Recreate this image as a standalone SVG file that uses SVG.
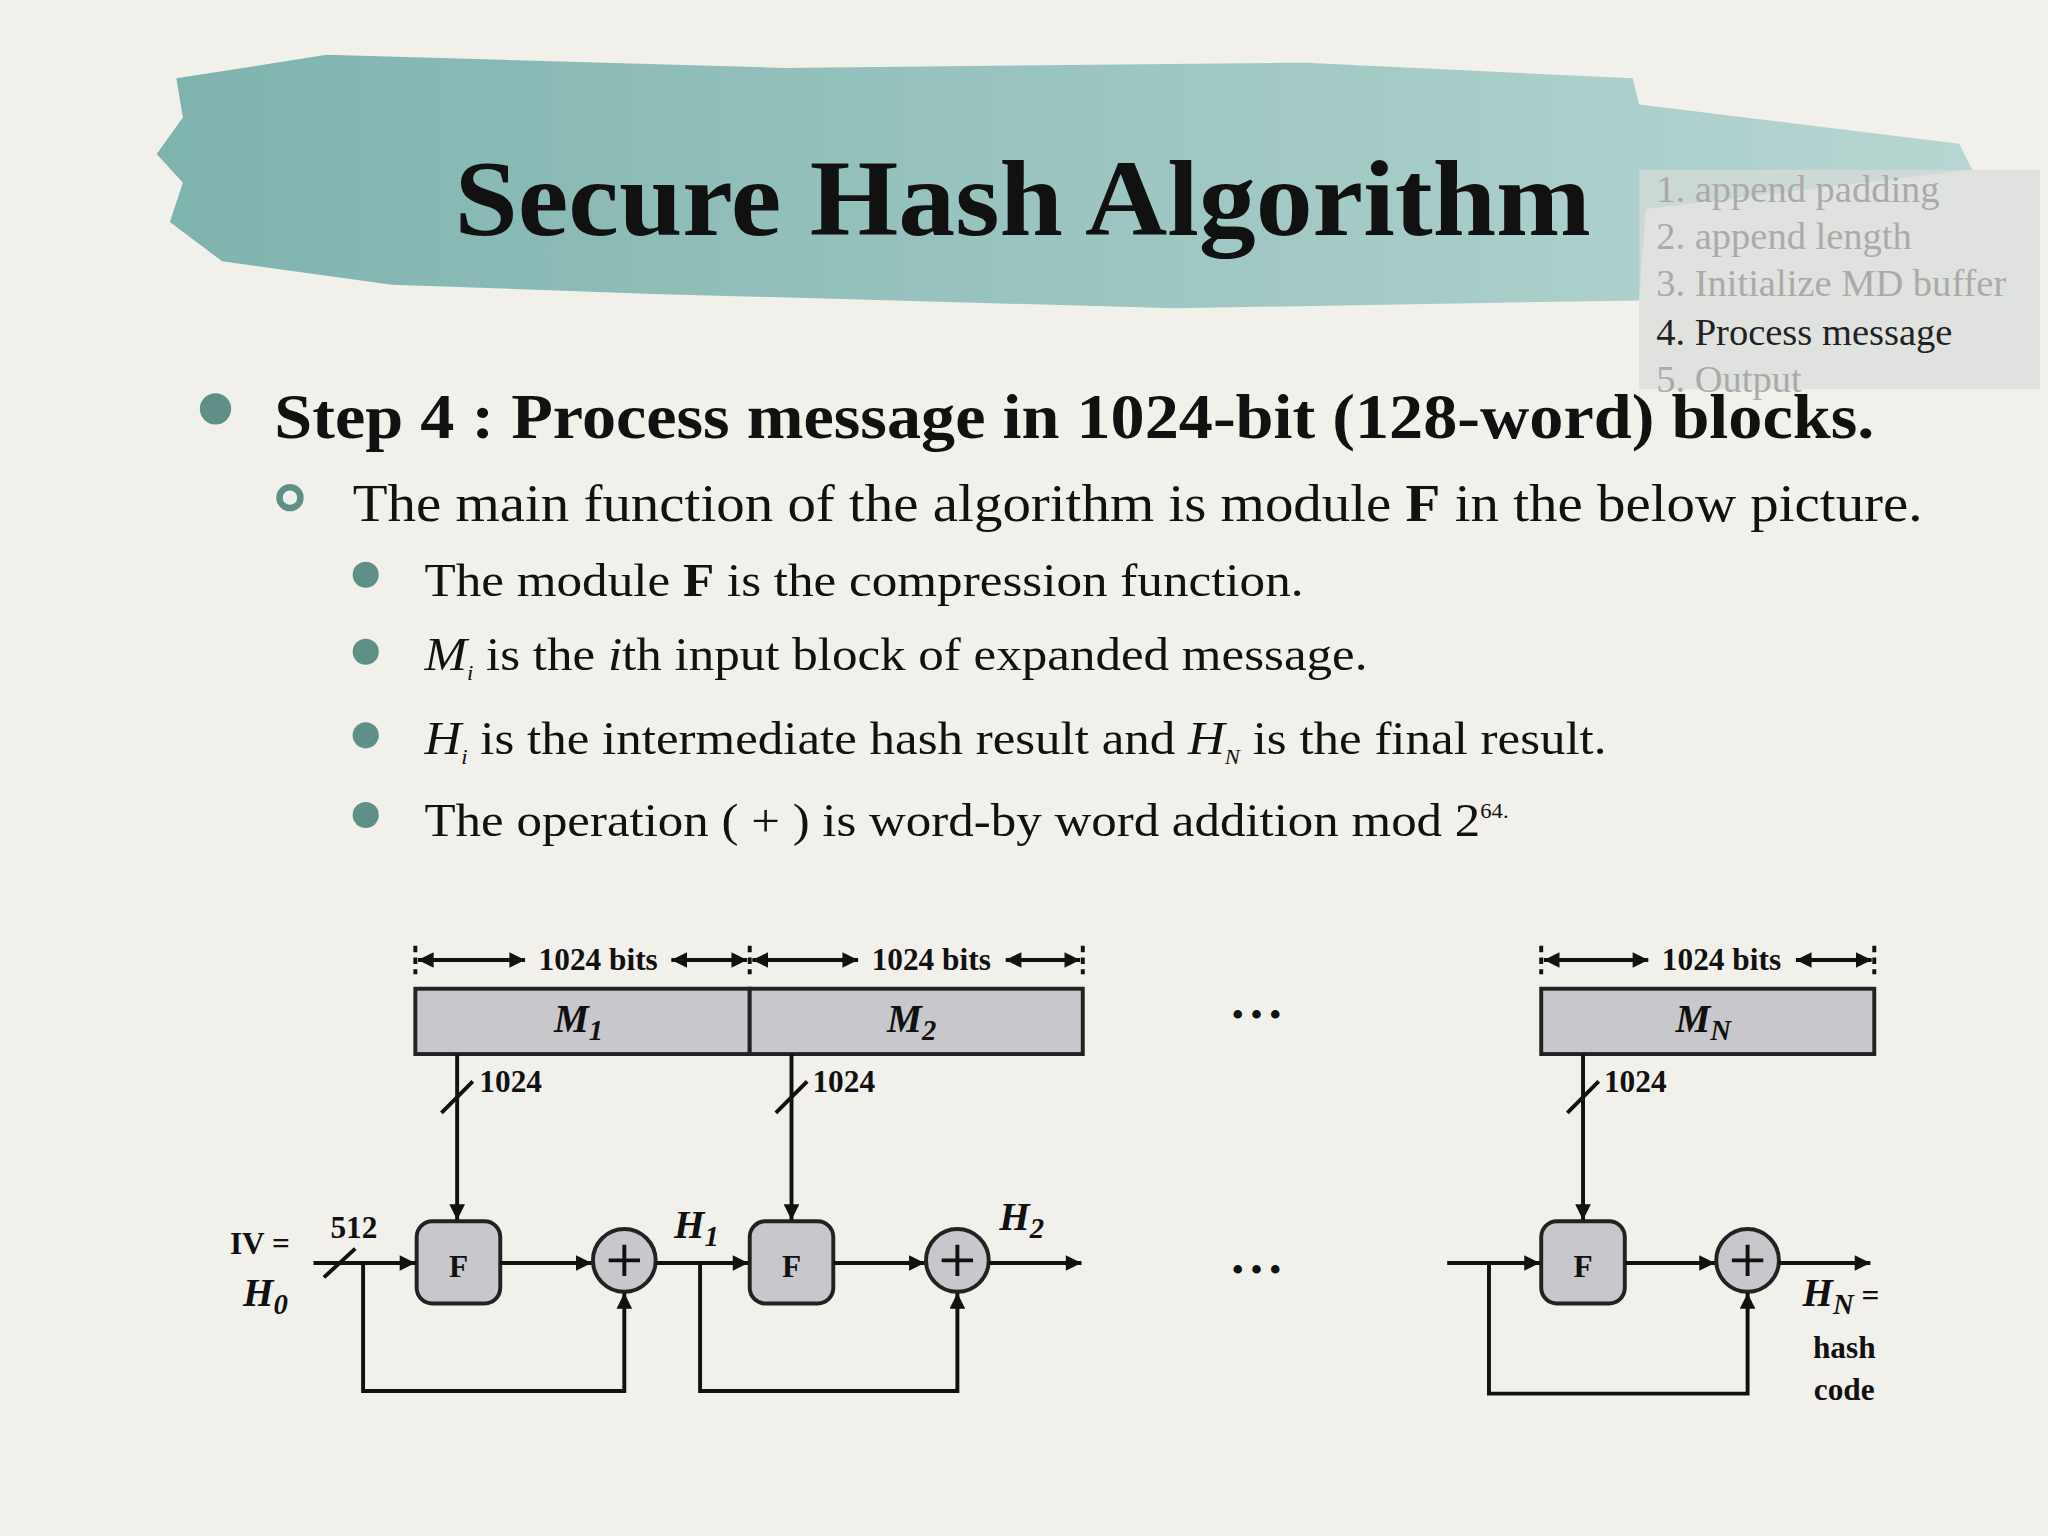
<svg xmlns="http://www.w3.org/2000/svg" width="2048" height="1536" viewBox="0 0 2048 1536">
<defs>
<style>
.s{font-family:"Liberation Serif",serif}
.b{font-weight:bold}
.ln{stroke:#111;stroke-width:3;fill:none}
.box{fill:#c8c8cc;stroke:#222;stroke-width:3}
.lb{font-family:"Liberation Serif",serif;font-weight:bold;font-size:24px;fill:#111}
.mi{font-family:"Liberation Serif",serif;font-weight:bold;font-style:italic;font-size:30px;fill:#111}
.nav{font-family:"Liberation Serif",serif;font-size:29.5px;fill:#aaa}
.bt{font-family:"Liberation Serif",serif;font-size:36px;fill:#111}
</style>
<marker id="ah" viewBox="0 0 10 10" refX="10" refY="5" markerWidth="18" markerHeight="12" markerUnits="userSpaceOnUse" orient="auto-start-reverse"><path d="M0,0L10,5L0,10z" fill="#111"/></marker>
<linearGradient id="g" x1="0" x2="1"><stop offset="0" stop-color="#7fb3ae"/><stop offset="1" stop-color="#b7d6d2"/></linearGradient>
</defs>
<rect width="2048" height="1536" fill="#f1f0eb"/>
<g transform="scale(1.30612)">
<g id="title">
<path d="M135,60 L250,42 L600,52 L1000,48 L1250,60 L1255,80 L1500,110 L1510,130 L1260,160 L1255,230 L900,236 L500,225 L300,218 L170,200 L130,170 L140,140 L120,118 L140,90 Z" fill="url(#g)"/>
<text x="348" y="180" textLength="870" lengthAdjust="spacingAndGlyphs" class="s b" font-size="82" fill="#111">Secure Hash Algorithm</text>
</g>
<g id="nav">
<rect x="1255" y="130" width="307" height="168" fill="#d8dcda" opacity="0.7"/>
<text x="1268" y="155" class="nav">1. append padding</text>
<text x="1268" y="191" class="nav">2. append length</text>
<text x="1268" y="227" class="nav">3. Initialize MD buffer</text>
<text x="1268" y="264" class="nav" style="fill:#222">4. Process message</text>
<text x="1268" y="300" class="nav">5. Output</text>
</g>
<g id="bullets">
<circle cx="165" cy="313" r="12" fill="#5f8f86"/>
<text x="210" y="335" textLength="1225" lengthAdjust="spacingAndGlyphs" class="s b" font-size="48" fill="#111">Step 4 : Process message in 1024-bit (128-word) blocks.</text>
<circle cx="222" cy="381" r="8" fill="none" stroke="#5f8f86" stroke-width="5"/>
<text x="270" y="399" textLength="1202" lengthAdjust="spacingAndGlyphs" class="s" font-size="40" fill="#111">The main function of the algorithm is module <tspan font-weight="bold">F</tspan> in the below picture.</text>
<g fill="#5f8f86"><circle cx="280" cy="440" r="10"/><circle cx="280" cy="499" r="10"/><circle cx="280" cy="563" r="10"/><circle cx="280" cy="624" r="10"/></g>
<text x="325" y="456" textLength="673" lengthAdjust="spacingAndGlyphs" class="bt">The module <tspan font-weight="bold">F</tspan> is the compression function.</text>
<text x="325" y="513" textLength="722" lengthAdjust="spacingAndGlyphs" class="bt"><tspan font-style="italic">M</tspan><tspan font-style="italic" font-size="16" dy="8">i</tspan><tspan dy="-8"> is the </tspan><tspan font-style="italic">i</tspan>th input block of expanded message.</text>
<text x="325" y="577" textLength="905" lengthAdjust="spacingAndGlyphs" class="bt"><tspan font-style="italic">H</tspan><tspan font-style="italic" font-size="16" dy="8">i</tspan><tspan dy="-8"> is the intermediate hash result and </tspan><tspan font-style="italic">H</tspan><tspan font-style="italic" font-size="16" dy="8">N</tspan><tspan dy="-8"> is the final result.</tspan></text>
<text x="325" y="640" textLength="830" lengthAdjust="spacingAndGlyphs" class="bt">The operation ( + ) is word-by word addition mod 2<tspan font-size="16" dy="-14">64.</tspan></text>
</g>
<g id="blocks">
<rect x="318" y="757" width="256" height="50" class="box"/>
<rect x="574" y="757" width="255" height="50" class="box"/>
<rect x="1180" y="757" width="255" height="50" class="box"/>
<text x="443" y="790" class="mi" text-anchor="middle">M<tspan font-size="22" dy="6">1</tspan></text>
<text x="698" y="790" class="mi" text-anchor="middle">M<tspan font-size="22" dy="6">2</tspan></text>
<text x="1304" y="790" class="mi" text-anchor="middle">M<tspan font-size="22" dy="6">N</tspan></text>
<text x="458" y="743" class="lb" text-anchor="middle">1024  bits</text>
<text x="713" y="743" class="lb" text-anchor="middle">1024  bits</text>
<text x="1318" y="743" class="lb" text-anchor="middle">1024  bits</text>
<text x="962" y="785" class="lb" font-size="34" text-anchor="middle">• • •</text>
<text x="962" y="980" class="lb" font-size="34" text-anchor="middle">• • •</text>
</g>
<g id="nodes">
<rect x="319" y="935" width="64" height="63" rx="12" class="box"/>
<rect x="574" y="935" width="64" height="63" rx="12" class="box"/>
<rect x="1180" y="935" width="64" height="63" rx="12" class="box"/>
<text x="351" y="978" class="lb" text-anchor="middle">F</text>
<text x="606" y="978" class="lb" text-anchor="middle">F</text>
<text x="1212" y="978" class="lb" text-anchor="middle">F</text>
<circle cx="478" cy="965" r="24" class="box"/>
<circle cx="733" cy="965" r="24" class="box"/>
<circle cx="1338" cy="965" r="24" class="box"/>
<path d="M466,965H490M478,953V977M721,965H745M733,953V977M1326,965H1350M1338,953V977" class="ln" stroke-width="4"/>
</g>
<g id="connectors">
<g class="ln" stroke-dasharray="5,4" stroke-width="2"><path d="M318,724V746M574,724V746M829,724V746M1180,724V746M1435,724V746"/></g>
<g class="ln" stroke-width="2" marker-start="url(#ah)" marker-end="url(#ah)">
<path d="M320,735H402"/><path d="M514,735H572"/>
<path d="M576,735H657"/><path d="M770,735H827"/>
<path d="M1182,735H1262"/><path d="M1375,735H1433"/>
</g>
<g class="ln" marker-end="url(#ah)">
<path d="M350,807V934"/><path d="M606,807V934"/><path d="M1212,807V934"/>
<path d="M240,967H318"/><path d="M383,967H453"/><path d="M502,967H573"/><path d="M638,967H708"/><path d="M757,967H828"/>
<path d="M1108,967H1179"/><path d="M1244,967H1313"/><path d="M1362,967H1432"/>
<path d="M278,967V1065H478V990"/><path d="M536,967V1065H733V990"/><path d="M1140,967V1067H1338V990"/>
</g>
<path d="M338,852L362,828M594,852L618,828M1200,852L1224,828M248,978L272,956" class="ln" stroke-width="2"/>
</g>
<g id="labels">
<text x="367" y="836" class="lb">1024</text>
<text x="622" y="836" class="lb">1024</text>
<text x="1228" y="836" class="lb">1024</text>
<text x="253" y="948" class="lb" font-size="22">512</text>
<text x="176" y="960" class="lb" font-size="28">IV =</text>
<text x="186" y="1000" class="mi">H<tspan font-size="22" dy="6">0</tspan></text>
<text x="516" y="948" class="mi">H<tspan font-size="22" dy="6">1</tspan></text>
<text x="765" y="942" class="mi">H<tspan font-size="22" dy="6">2</tspan></text>
<text x="1380" y="1000" class="mi">H<tspan font-size="22" dy="6">N</tspan><tspan font-style="normal" font-size="24" dy="-6"> =</tspan></text>
<text x="1412" y="1040" class="lb" text-anchor="middle">hash</text>
<text x="1412" y="1072" class="lb" text-anchor="middle">code</text>
</g>
</g>
</svg>
